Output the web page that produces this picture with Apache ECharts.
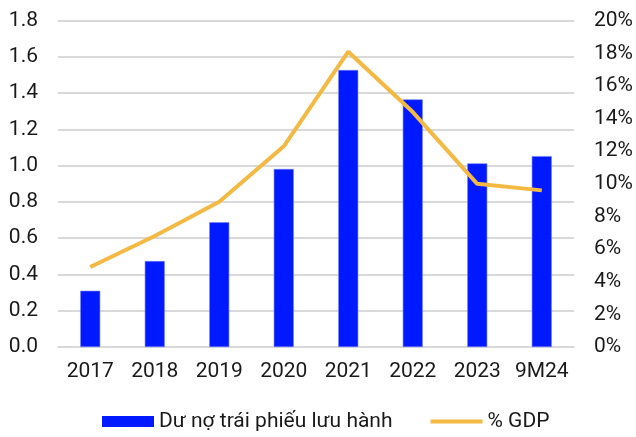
<!DOCTYPE html>
<html>
<head>
<meta charset="utf-8">
<script src="https://cdn.jsdelivr.net/npm/echarts@6/dist/echarts.min.js"></script>
<style>html,body{margin:0;padding:0;background:#fff}#c{width:636px;height:437px}</style>
</head>
<body>
<div id="c"></div>
<script>
const categories = ['2017','2018','2019','2020','2021','2022','2023','9M24'];
const bondOutstanding = [0.31, 0.474, 0.688, 0.982, 1.528, 1.366, 1.013, 1.053];
const pctGDP = [4.9, 6.8, 8.9, 12.3, 18.1, 14.4, 10.0, 9.6];
const leftTicks = {min: 0, max: 1.8, interval: 0.2};
const rightTicks = {min: 0, max: 20, interval: 2};

const chart = echarts.init(document.getElementById('c'));
const font = 'Roboto';
const fs = 21;
chart.setOption({
  animation: false,
  textStyle: {fontFamily: font},
  grid: {left: 58, right: 60, top: 20.7, bottom: 90, containLabel: false},
  legend: {
    top: 406, left: 97,
    itemWidth: 52, itemHeight: 11, itemGap: 36,
    textStyle: {fontFamily: font, fontSize: fs, color: '#1a1a1a'},
    data: [
      {name: 'Dư nợ trái phiếu lưu hành', icon: 'rect', itemStyle: {borderWidth: 0}},
      {name: '% GDP', itemStyle: {opacity: 0}, lineStyle: {width: 4, color: '#F4B942'}}
    ]
  },
  xAxis: {
    type: 'category', data: categories,
    axisLine: {show: true, lineStyle: {color: '#d9d9d9', width: 2}},
    axisTick: {show: false},
    axisLabel: {fontFamily: font, fontSize: fs, color: '#1a1a1a', margin: 14, interval: 0}
  },
  yAxis: [{
    type: 'value', min: leftTicks.min, max: leftTicks.max, interval: leftTicks.interval,
    axisLine: {show: false}, axisTick: {show: false},
    splitLine: {lineStyle: {color: '#d9d9d9', width: 2}},
    axisLabel: {fontFamily: font, fontSize: fs, color: '#1a1a1a', margin: 20, formatter: v => v.toFixed(1)}
  }, {
    type: 'value', min: rightTicks.min, max: rightTicks.max, interval: rightTicks.interval,
    axisLine: {show: false}, axisTick: {show: false},
    splitLine: {show: false},
    axisLabel: {fontFamily: font, fontSize: fs, color: '#1a1a1a', margin: 20, formatter: v => Math.round(v) + '%'}
  }],
  series: [{
    name: 'Dư nợ trái phiếu lưu hành', type: 'bar', data: bondOutstanding,
    barWidth: 20, itemStyle: {color: '#0019FF', borderColor: '#6f7dff', borderWidth: 0.6}
  }, {
    name: '% GDP', type: 'line', yAxisIndex: 1, data: pctGDP,
    symbol: 'none', lineStyle: {color: '#F4B942', width: 4}, itemStyle: {color: '#F4B942'}
  }]
});
</script>
</body>
</html>
